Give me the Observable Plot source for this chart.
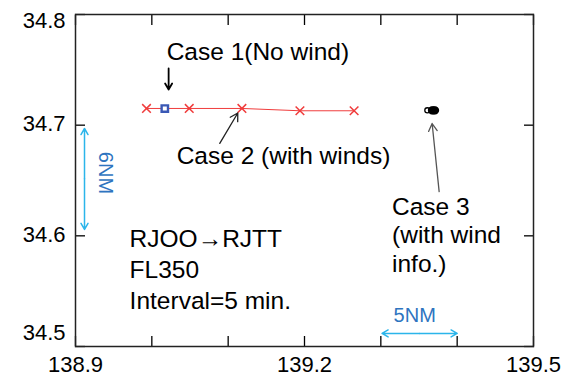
<!DOCTYPE html>
<html>
<head>
<meta charset="utf-8">
<script src="https://cdn.jsdelivr.net/npm/d3@7"></script>
<script src="https://cdn.jsdelivr.net/npm/@observablehq/plot@0.6"></script>
<style>
  html, body { margin: 0; padding: 0; background: white; }
  #chart svg { display: block; }
</style>
</head>
<body>
<div id="chart"></div>
<script>
// Case 2 (with winds): predicted positions, 5-min interval
const case2Lon = [138.993, 139.049, 139.118, 139.194, 139.265];
const case2Lat = [34.7151, 34.7151, 34.7151, 34.7130, 34.7130];
// Case 1 (no wind)
const case1Lon = [139.017];
const case1Lat = [34.7150];
// Case 3 (with wind info.)
const case3OpenLon = [139.361];
const case3OpenLat = [34.7134];
const case3Lon = [139.367, 139.369, 139.371];
const case3Lat = [34.7134, 34.7134, 34.7134];
// axis ticks
const xTicks = [138.9, 139.0, 139.1, 139.2, 139.3, 139.4, 139.5];
const xTickLabels = [138.9, 139.2, 139.5];
const yTicks = [34.5, 34.6, 34.7, 34.8];

const case2 = case2Lon.map((x, i) => ({x, y: case2Lat[i]}));
const case1 = case1Lon.map((x, i) => ({x, y: case1Lat[i]}));
const case3Open = case3OpenLon.map((x, i) => ({x, y: case3OpenLat[i]}));
const case3 = case3Lon.map((x, i) => ({x, y: case3Lat[i]}));

const FONT = "Liberation Sans, Arial, Helvetica, sans-serif";
const BLUE_TXT = "#2e74c0";
const CYAN = "#2bb5ea";
const FS = 24.5;

const chart = Plot.plot({
  width: 567,
  height: 379,
  marginLeft: 75,
  marginRight: 34,
  marginTop: 14,
  marginBottom: 33,
  x: {domain: [138.9, 139.5]},
  y: {domain: [34.5, 34.8]},
  style: {fontFamily: FONT, background: "white", color: "black", overflow: "visible"},
  marks: [
    // inward ticks on all four sides
    Plot.axisX({anchor: "bottom", ticks: xTicks, tickSize: 10, dy: -10, tickFormat: () => "", strokeWidth: 1.3}),
    Plot.axisX({anchor: "top", ticks: xTicks, tickSize: 10, dy: 10, tickFormat: () => "", strokeWidth: 1.3}),
    Plot.axisY({anchor: "left", ticks: yTicks, tickSize: 10, dx: 10, tickFormat: () => "", strokeWidth: 1.3}),
    Plot.axisY({anchor: "right", ticks: yTicks, tickSize: 10, dx: -10, tickFormat: () => "", strokeWidth: 1.3}),
    // tick labels
    Plot.axisX({anchor: "bottom", ticks: xTickLabels, tickSize: 0, tickPadding: 10, fontSize: 22, tickFormat: d => d.toFixed(1)}),
    Plot.axisY({anchor: "left", ticks: [34.8], tickSize: 0, tickPadding: 10, fontSize: 22, dy: 6, tickFormat: d => d.toFixed(1)}),
    Plot.axisY({anchor: "left", ticks: [34.7, 34.6], tickSize: 0, tickPadding: 10, fontSize: 22, dy: -1, tickFormat: d => d.toFixed(1)}),
    Plot.axisY({anchor: "left", ticks: [34.5], tickSize: 0, tickPadding: 10, fontSize: 22, dy: -14, tickFormat: d => d.toFixed(1)}),
    Plot.frame({stroke: "#222", strokeWidth: 1.5}),

    // Case 2 line and markers
    Plot.line(case2, {x: "x", y: "y", stroke: "#f03c3c", strokeWidth: 1}),
    Plot.dot(case2, {x: "x", y: "y", symbol: "times", r: 4, stroke: "#f03c3c", strokeWidth: 1.5}),
    // Case 1 marker
    Plot.dot(case1, {x: "x", y: "y", symbol: "square", r: 3.6, stroke: "#3a58b5", fill: "white", strokeWidth: 2.4}),
    // Case 3 markers
    Plot.dot(case3Open, {x: "x", y: "y", r: 2.6, stroke: "black", fill: "white", strokeWidth: 1.3}),
    Plot.dot(case3, {x: "x", y: "y", r: 3.4, fill: "black", stroke: "black"}),

    // annotation arrows
    Plot.arrow([{x1: 139.022, y1: 34.7512, x2: 139.022, y2: 34.7322}], {x1: "x1", y1: "y1", x2: "x2", y2: "y2", stroke: "black", strokeWidth: 1.8, headLength: 9}),
    Plot.arrow([{x1: 139.089, y1: 34.6835, x2: 139.1126, y2: 34.7110}], {x1: "x1", y1: "y1", x2: "x2", y2: "y2", stroke: "#222", strokeWidth: 1.3, headLength: 10}),
    Plot.arrow([{x1: 139.3764, y1: 34.640, x2: 139.3672, y2: 34.7015}], {x1: "x1", y1: "y1", x2: "x2", y2: "y2", stroke: "#555", strokeWidth: 1.3, headLength: 10}),

    // 6NM double arrow
    Plot.arrow([{x1: 138.9118, y1: 34.6515, x2: 138.9118, y2: 34.697}, {x1: 138.9118, y1: 34.6515, x2: 138.9118, y2: 34.6058}],
      {x1: "x1", y1: "y1", x2: "x2", y2: "y2", stroke: CYAN, strokeWidth: 1.5, headLength: 7}),
    // 5NM double arrow
    Plot.arrow([{x1: 139.351, y1: 34.5118, x2: 139.3016, y2: 34.5118}, {x1: 139.351, y1: 34.5118, x2: 139.400, y2: 34.5118}],
      {x1: "x1", y1: "y1", x2: "x2", y2: "y2", stroke: CYAN, strokeWidth: 1.5, headLength: 7}),

    // texts
    Plot.text([{x: 139.0194, y: 34.7663, t: "Case 1(No wind)"}], {x: "x", y: "y", text: "t", textAnchor: "start", fontSize: FS, fill: "black"}),
    Plot.text([{x: 139.0325, y: 34.6724, t: "Case 2 (with winds)"}], {x: "x", y: "y", text: "t", textAnchor: "start", fontSize: FS, fill: "black"}),
    Plot.text([{x: 139.3147, y: 34.6374, t: "Case 3\n(with wind\ninfo.)"}], {x: "x", y: "y", text: "t", textAnchor: "start", lineAnchor: "top", lineHeight: 1.17, fontSize: FS, fill: "black"}),
    Plot.text([{x: 138.9709, y: 34.6103, t: "RJOO\u2192RJTT\nFL350\nInterval=5 min."}], {x: "x", y: "y", text: "t", textAnchor: "start", lineAnchor: "top", lineHeight: 1.28, fontSize: FS, fill: "black"}),
    Plot.text([{x: 139.3444, y: 34.5278, t: "5NM"}], {x: "x", y: "y", text: "t", fontSize: 20, fill: BLUE_TXT}),
    Plot.text([{x: 138.9387, y: 34.6568, t: "6NM"}], {x: "x", y: "y", text: "t", fontSize: 20, rotate: 90, fill: BLUE_TXT})
  ]
});
document.getElementById("chart").appendChild(chart);
</script>
</body>
</html>
